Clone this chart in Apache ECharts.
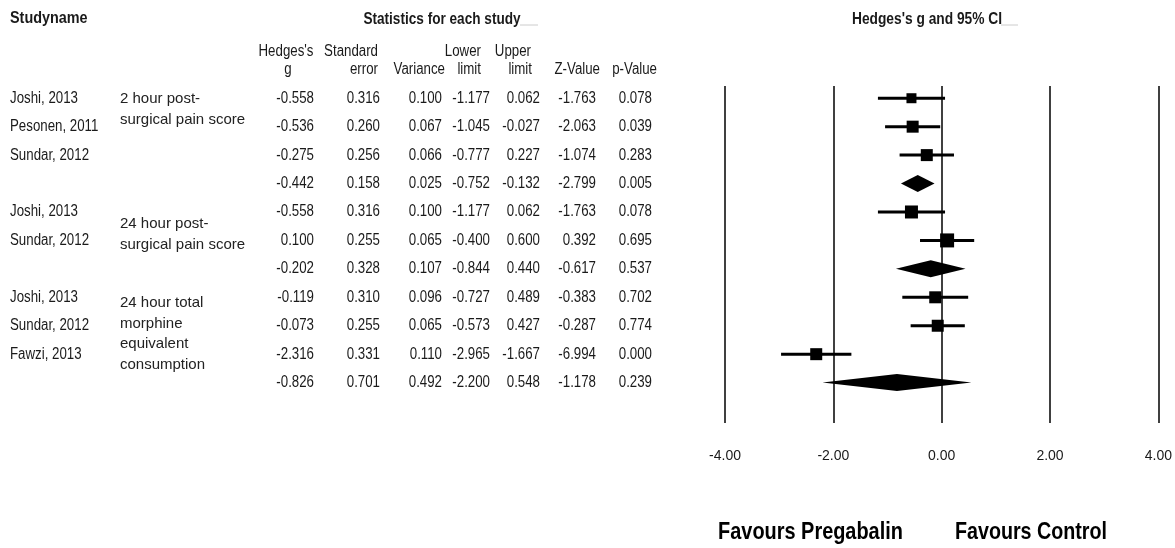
<!DOCTYPE html>
<html>
<head>
<meta charset="utf-8">
<script src="https://cdn.jsdelivr.net/npm/echarts@6.0.0/dist/echarts.min.js"></script>
<style>html,body{margin:0;padding:0;background:#fff}#c{width:1175px;height:548px}</style>
</head>
<body>
<div id="c"></div>
<script>
// ---------- data ----------
const studies    = ['Joshi, 2013','Pesonen, 2011','Sundar, 2012','','Joshi, 2013','Sundar, 2012','','Joshi, 2013','Sundar, 2012','Fawzi, 2013',''];
const isSummary  = [0,0,0,1,0,0,1,0,0,0,1];
const hedgesG    = [-0.558,-0.536,-0.275,-0.442,-0.558, 0.100,-0.202,-0.119,-0.073,-2.316,-0.826];
const stdErr     = [ 0.316, 0.260, 0.256, 0.158, 0.316, 0.255, 0.328, 0.310, 0.255, 0.331, 0.701];
const variance   = [ 0.100, 0.067, 0.066, 0.025, 0.100, 0.065, 0.107, 0.096, 0.065, 0.110, 0.492];
const lowerLimit = [-1.177,-1.045,-0.777,-0.752,-1.177,-0.400,-0.844,-0.727,-0.573,-2.965,-2.200];
const upperLimit = [ 0.062,-0.027, 0.227,-0.132, 0.062, 0.600, 0.440, 0.489, 0.427,-1.667, 0.548];
const zValue     = [-1.763,-2.063,-1.074,-2.799,-1.763, 0.392,-0.617,-0.383,-0.287,-6.994,-1.178];
const pValue     = [ 0.078, 0.039, 0.283, 0.005, 0.078, 0.695, 0.537, 0.702, 0.774, 0.000, 0.239];
const subgroups  = [['2 hour post-','surgical pain score'],
                    ['24 hour post-','surgical pain score'],
                    ['24 hour total','morphine','equivalent','consumption']];
const xTicks     = [-4, -2, 0, 2, 4];

// ---------- layout / style ----------
const FONT = '"Liberation Sans", Arial, sans-serif';
const NARROW = 0.83;
const BODY = 16;
const TXT = '#1a1a1a';
const colRight = [314, 380, 442, 490, 540, 596, 652];
const subgroupTop = [0.03, 4.42, 7.21];   // row position of first line
const subgroupLineH = 20.5;
const squareSize = [10,12,12,0,13,14,0,12,12,12,0];
const diamondHalfH = 8.5;

const chart = echarts.init(document.getElementById('c'), null, {renderer:'canvas'});

function txt(text, x, y, align, opt) {
  opt = opt || {};
  return {
    type: 'text', x: x, y: y, scaleX: opt.scaleX != null ? opt.scaleX : NARROW,
    style: {
      text: text, fill: opt.fill || TXT,
      fontSize: opt.size || BODY, fontFamily: FONT, fontWeight: opt.weight || 'normal',
      align: align, textAlign: align, verticalAlign: 'middle', textVerticalAlign: 'middle'
    }
  };
}

function tableItem(params, api) {
  const i = params.dataIndex;
  const y = api.coord([0, i])[1];
  const children = [];
  if (studies[i]) children.push(txt(studies[i], 10, y, 'left'));
  const cols = [hedgesG, stdErr, variance, lowerLimit, upperLimit, zValue, pValue];
  cols.forEach(function (arr, c) { children.push(txt(arr[i].toFixed(3), colRight[c], y, 'right')); });
  return {type: 'group', children: children};
}

function subgroupItem(params, api) {
  const k = params.dataIndex;
  const y0 = api.coord([0, subgroupTop[k]])[1];
  return {type: 'group', children: subgroups[k].map(function (line, j) {
    return txt(line, 120, y0 + j * subgroupLineH, 'left', {scaleX: 1, size: 15, fill: '#222'});
  })};
}

function forestItem(params, api) {
  const i = params.dataIndex;
  const row = api.value(1);
  const c = api.coord([api.value(0), row]);
  const lo = api.coord([api.value(2), row]);
  const hi = api.coord([api.value(3), row]);
  if (isSummary[i]) {
    return {type: 'polygon', shape: {points: [[lo[0], c[1]], [c[0], c[1] - diamondHalfH], [hi[0], c[1]], [c[0], c[1] + diamondHalfH]]},
      style: {fill: '#000'}};
  }
  const s = squareSize[i];
  return {type: 'group', children: [
    {type: 'line', shape: {x1: lo[0], y1: c[1], x2: hi[0], y2: c[1]}, style: {stroke: '#000', lineWidth: 3}},
    {type: 'rect', shape: {x: c[0] - s / 2, y: c[1] - s / 2, width: s, height: s}, style: {fill: '#000'}}
  ]};
}

const option = {
  animation: false,
  backgroundColor: '#fff',
  grid: {left: 725, right: 15.5, top: 86, bottom: 125},
  xAxis: {
    type: 'value', min: xTicks[0], max: xTicks[xTicks.length - 1], interval: 2,
    axisLine: {show: false}, axisTick: {show: false},
    axisLabel: {formatter: function (v) { return v.toFixed(2); }, fontSize: 14, fontFamily: FONT, color: TXT, margin: 26},
    splitLine: {show: true, lineStyle: {color: '#000', width: 1.5}}
  },
  yAxis: {
    type: 'value', min: -0.43, max: 11.42, inverse: true,
    show: false, splitLine: {show: false}
  },
  series: [
    {type: 'custom', renderItem: forestItem, clip: false,
     encode: {x: [0, 2, 3], y: 1},
     data: hedgesG.map(function (g, i) { return [g, i, lowerLimit[i], upperLimit[i]]; })},
    {type: 'custom', renderItem: tableItem, clip: false, silent: true,
     data: studies.map(function (s, i) { return [0, i]; })},
    {type: 'custom', renderItem: subgroupItem, clip: false, silent: true,
     data: subgroups.map(function (g, k) { return [0, subgroupTop[k]]; })}
  ],
  graphic: [
    txt('Studyname', 10, 19, 'left', {weight: 'bold', size: 16, scaleX: 0.9}),
    txt('Statistics for each study', 442, 20, 'center', {weight: 'bold', size: 16, scaleX: 0.85}),
    {type: 'line', shape: {x1: 520, y1: 25, x2: 538, y2: 25}, style: {stroke: '#ccc', lineWidth: 1}},
    txt("Hedges's g and 95% CI", 927, 20, 'center', {weight: 'bold', size: 16, scaleX: 0.86}),
    {type: 'line', shape: {x1: 1001, y1: 25, x2: 1018, y2: 25}, style: {stroke: '#ccc', lineWidth: 1}},
    txt("Hedges's", 286, 52, 'center'),
    txt('g', 288, 70, 'center'),
    txt('Standard', 378, 52, 'right'),
    txt('error', 378, 70, 'right'),
    txt('Variance', 445, 70, 'right'),
    txt('Lower', 481, 52, 'right'),
    txt('limit', 481, 70, 'right'),
    txt('Upper', 531, 52, 'right'),
    txt('limit', 532, 70, 'right'),
    txt('Z-Value', 600, 70, 'right'),
    txt('p-Value', 657, 70, 'right'),
    txt('Favours Pregabalin', 810.5, 532, 'center', {weight: 'bold', size: 24, scaleX: 0.83, fill: '#000'}),
    txt('Favours Control', 1031, 532, 'center', {weight: 'bold', size: 24, scaleX: 0.82, fill: '#000'})
  ]
};
chart.setOption(option);
</script>
</body>
</html>
